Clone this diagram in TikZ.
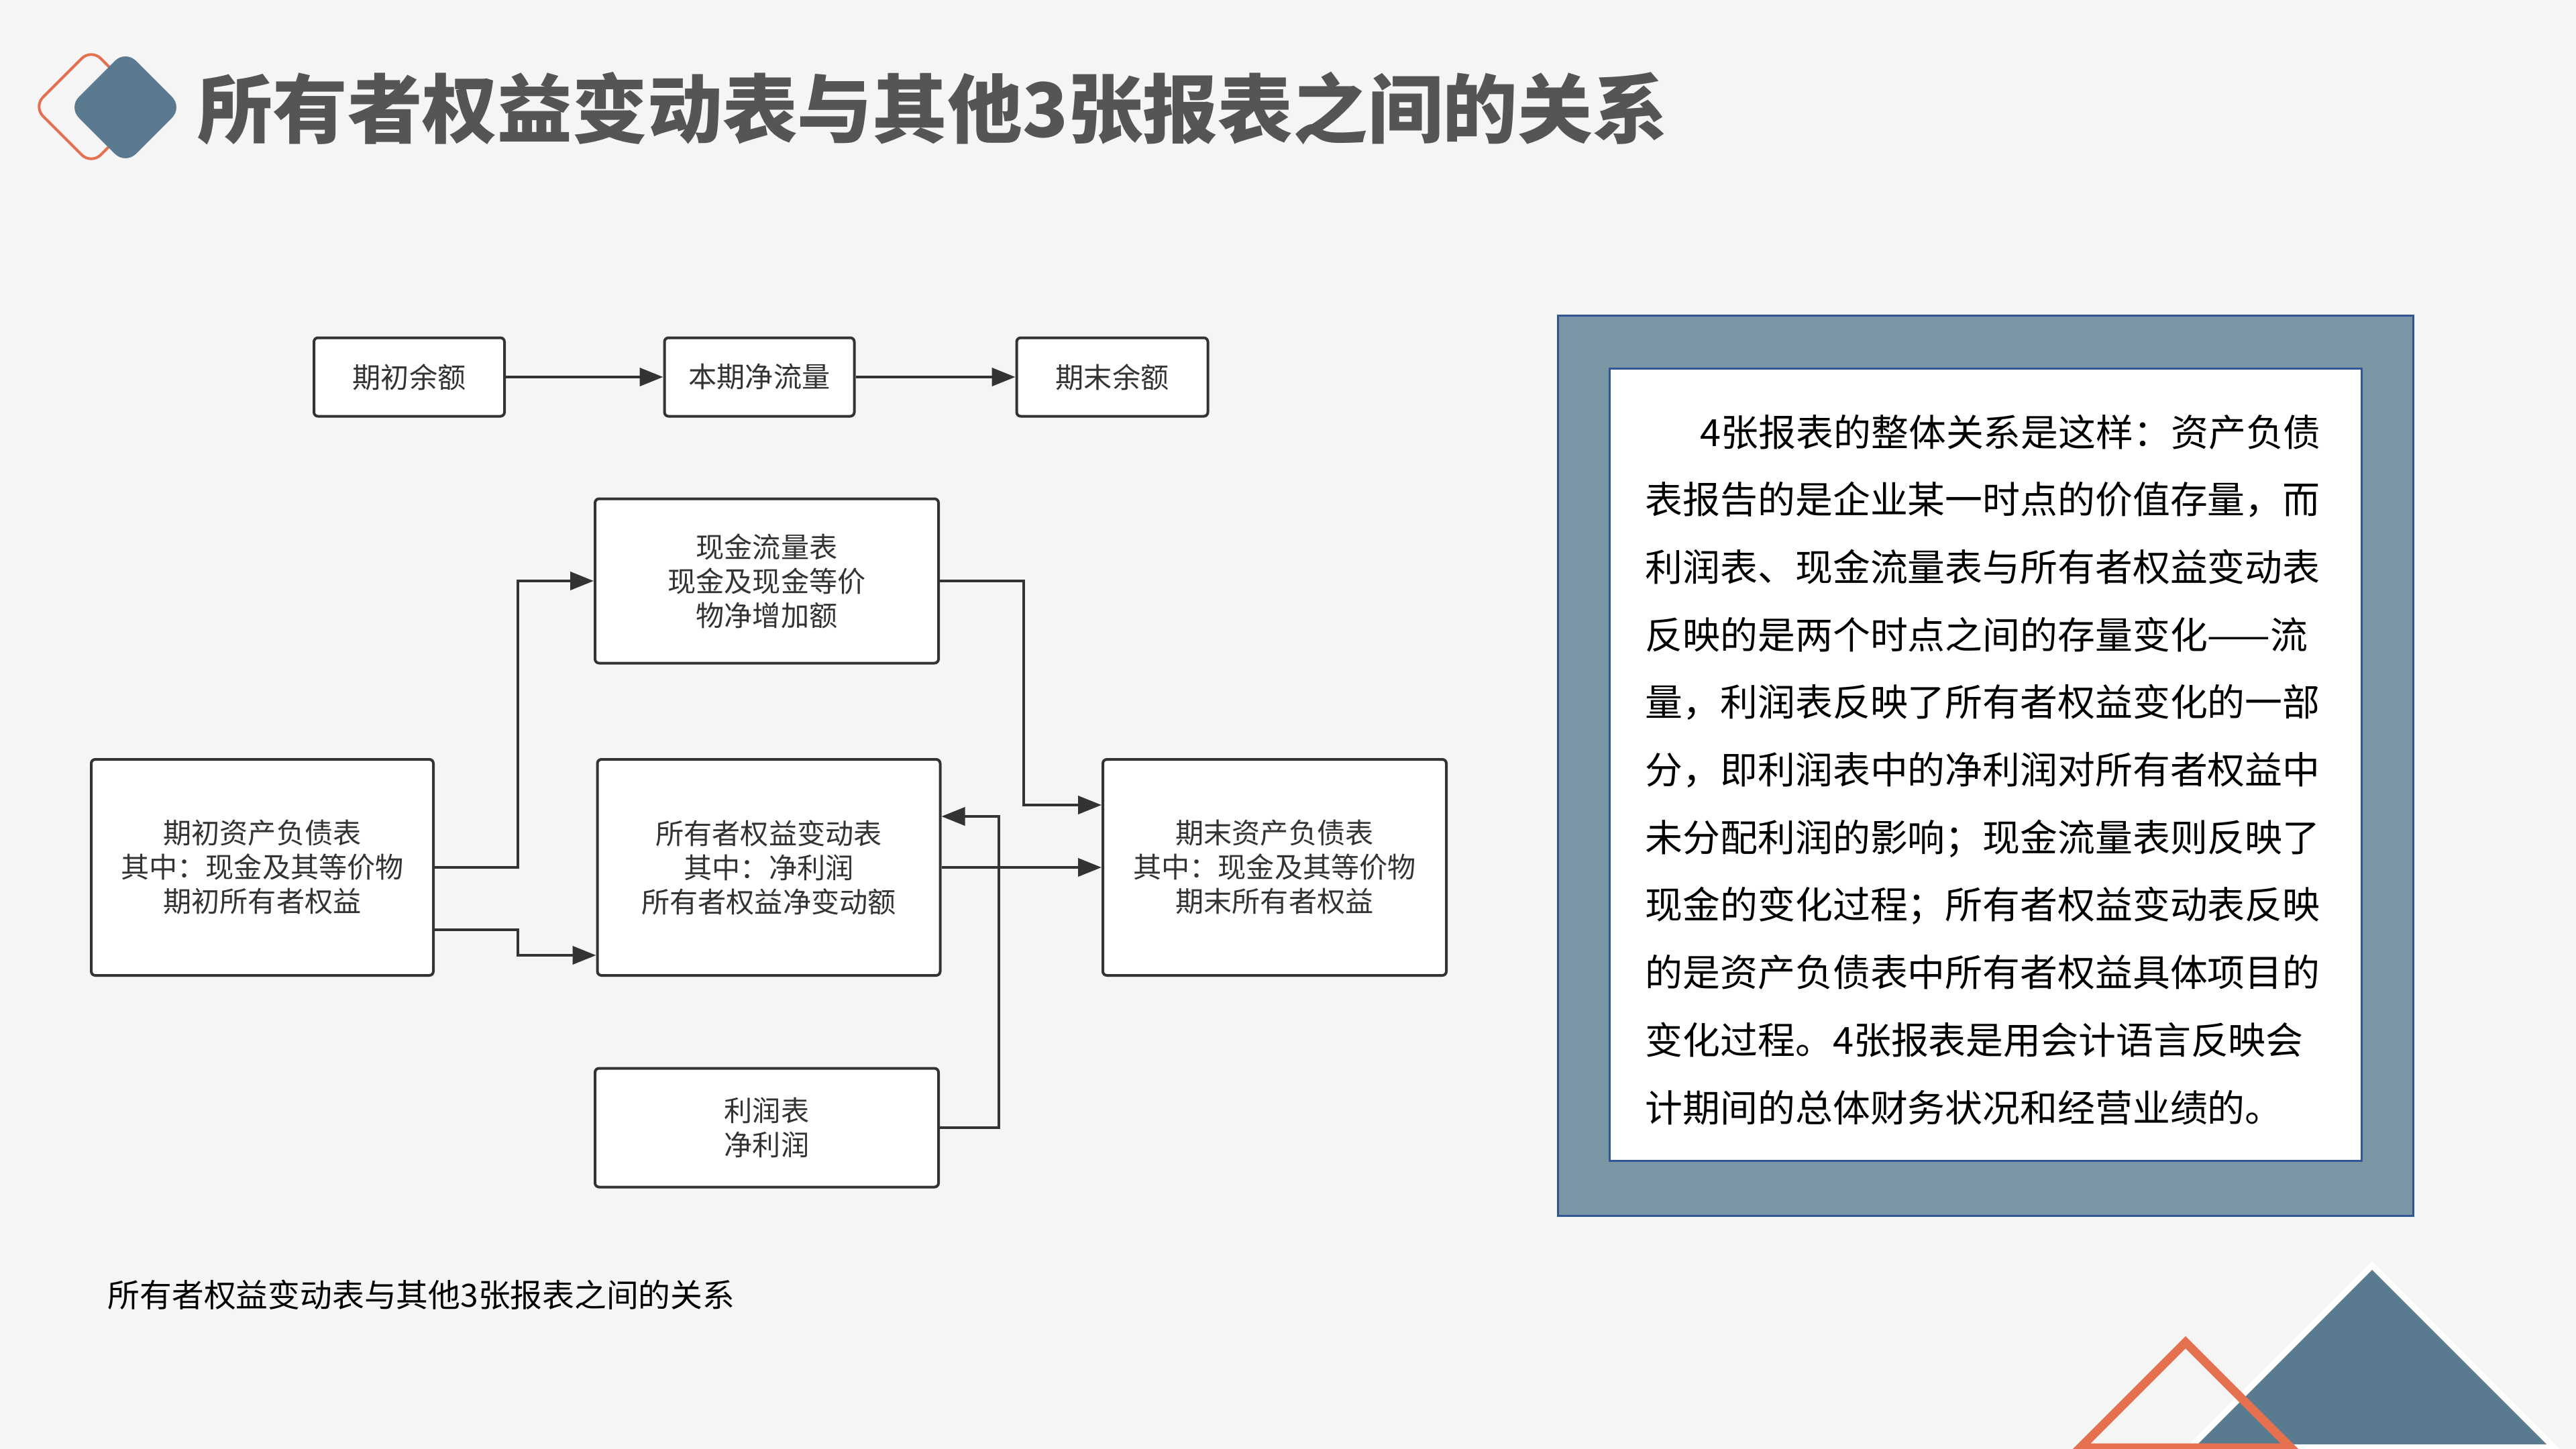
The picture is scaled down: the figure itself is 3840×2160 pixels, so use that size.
\documentclass[tikz,border=0pt]{standalone}
\usepackage{fontspec}
\setmainfont{Noto Sans CJK SC}
\usetikzlibrary{arrows.meta}
\definecolor{bggray}{HTML}{F5F5F5}
\definecolor{iconblue}{HTML}{5A7A8F}
\definecolor{iconorange}{HTML}{E4704F}
\definecolor{titlegray}{HTML}{555555}
\definecolor{linegray}{HTML}{333333}
\definecolor{panelgray}{HTML}{7A95A4}
\definecolor{panelblue}{HTML}{2F5597}
\newcommand{\titlesize}{\fontsize{31.8}{38}\selectfont}
\newcommand{\flowsize}{\fontsize{12}{14.5}\selectfont}
\newcommand{\parasize}{\fontsize{15.9}{20}\selectfont}
\newcommand{\capsize}{\fontsize{13.6}{16}\selectfont}

\begin{document}
\begin{tikzpicture}[
    x=0.1mm, y=-0.1mm,
    box/.style={
        draw=linegray, fill=white, line width=0.4mm,
        rounded corners=0.6mm, inner sep=0pt,
        align=center, font=\flowsize, text=linegray
    },
    link/.style={
        -{Triangle[length=3.5mm, width=2.7mm]},
        line width=0.4mm,
        draw=linegray
    },
    paratext/.style={anchor=base west, inner sep=0pt, font=\parasize, text=black}
]
\useasboundingbox (0,0) rectangle (3840,2160);
\clip (0,0) rectangle (3840,2160);
\fill[bggray] (0,0) rectangle (3840,2160);

% =================== Title ===================
\draw[iconorange, line width=0.4mm, rounded corners=2mm]
    (50,159) -- (136,73) -- (222,159) -- (136,245) -- cycle;
\fill[iconblue, rounded corners=2.2mm]
    (102,160) -- (187,75) -- (272,160) -- (187,245) -- cycle;
\node[anchor=west, inner sep=0pt, font=\titlesize\bfseries, text=titlegray] (title)
    at (294,162) {所有者权益变动表与其他3张报表之间的关系};

% =================== Top row ===================
\node[box, minimum width=28.4mm, minimum height=11.7mm] (open) at (610,562) {期初余额};
\node[box, minimum width=28.3mm, minimum height=11.7mm] (netflow) at (1132,562) {本期净流量};
\node[box, minimum width=28.5mm, minimum height=11.7mm] (close) at (1658,562) {期末余额};

% Arrows 1-2
\draw[link] (open) -- (netflow);
\draw[link] (netflow) -- (close);

% =================== Statements ===================
\node[box, minimum width=51.2mm, minimum height=24.5mm] (cash) at (1143,866)
    {现金流量表\\现金及现金等价\\物净增加额};
\node[box, minimum width=51mm, minimum height=32.2mm] (bsopen) at (391,1293)
    {期初资产负债表\\其中：现金及其等价物\\期初所有者权益};
\node[box, minimum width=51.1mm, minimum height=32.2mm] (equity) at (1146,1293)
    {所有者权益变动表\\其中：净利润\\所有者权益净变动额};
\node[box, minimum width=51.2mm, minimum height=32.2mm] (bsclose) at (1900,1293)
    {期末资产负债表\\其中：现金及其等价物\\期末所有者权益};
\node[box, minimum width=51.2mm, minimum height=17.7mm] (income) at (1143,1681)
    {利润表\\净利润};

% Connectors
\draw[link] (bsopen.east) -- ++(124,0) |- (cash.west);
\draw[link] ([yshift=-9.3mm]bsopen.east) -- ++(124,0) |- ([yshift=-13.1mm]equity.west);
\draw[link] (cash.east) -- ++(125,0) |- ([yshift=9.3mm]bsclose.west);
\draw[link] (equity.east) -- (bsclose.west);
\draw[link] (income.east) -- ++(88,0) |- ([yshift=7.6mm]equity.east);

% Caption
\node[anchor=west, inner sep=0pt, font=\capsize, text=black] (caption)
    at (160,1930) {所有者权益变动表与其他3张报表之间的关系};

% =================== Text panel ===================
\filldraw[fill=panelgray, draw=panelblue, line width=0.3mm] (2322,470) rectangle (3597,1812);
\filldraw[fill=white, draw=panelblue, line width=0.3mm] (2399,549) rectangle (3520,1730);
\foreach \lx/\k/\txt in {
    2534/0/4张报表的整体关系是这样：资产负债,
    2452/1/表报告的是企业某一时点的价值存量，而,
    2452/2/利润表、现金流量表与所有者权益变动表,
    2452/3/反映的是两个时点之间的存量变化——流,
    2452/4/量，利润表反映了所有者权益变化的一部,
    2452/5/分，即利润表中的净利润对所有者权益中,
    2452/6/未分配利润的影响；现金流量表则反映了,
    2452/7/现金的变化过程；所有者权益变动表反映,
    2452/8/的是资产负债表中所有者权益具体项目的,
    2452/9/变化过程。4张报表是用会计语言反映会,
    2452/10/计期间的总体财务状况和经营业绩的。}
    \node[paratext] (para\k) at ({\lx},{665+100.7*\k}) {\txt};

% =================== Corner triangles ===================
\fill[white] (3536,1880) -- (3826,2170) -- (3246,2170) -- cycle;
\fill[iconblue] (3536,1893) -- (3796,2153) -- (3276,2153) -- cycle;
\draw[iconorange, line width=1.3mm, line join=miter]
    (3258,2001) -- (3415,2158) -- (3101,2158) -- cycle;

\end{tikzpicture}
\end{document}
